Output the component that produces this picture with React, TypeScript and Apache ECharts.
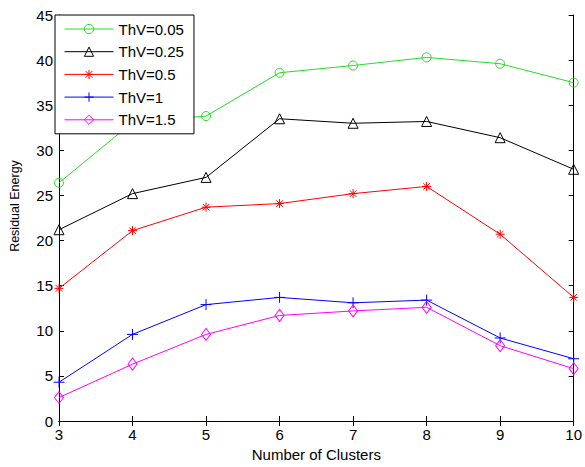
import React, { useEffect, useRef } from "react";
import * as echarts from "echarts";

const clusters = [3, 4, 5, 6, 7, 8, 9, 10];
const thv005 = [26.4, 33.1, 33.8, 38.6, 39.4, 40.3, 39.6, 37.5];
const thv025 = [21.2, 25.2, 27.0, 33.5, 33.0, 33.2, 31.4, 27.9];
const thv05 = [14.7, 21.1, 23.7, 24.1, 25.2, 26.0, 20.7, 13.7];
const thv1 = [4.3, 9.6, 12.9, 13.7, 13.1, 13.4, 9.2, 6.9];
const thv15 = [2.6, 6.3, 9.6, 11.7, 12.2, 12.6, 8.35, 5.8];
const seriesNames = ["ThV=0.05", "ThV=0.25", "ThV=0.5", "ThV=1", "ThV=1.5"];

const FONT = "'Liberation Sans', Arial, sans-serif";
const ASTERISK = "path://M0,-5L0,5M-5,0L5,0M-3.6,-3.6L3.6,3.6M-3.6,3.6L3.6,-3.6";
const PLUS = "path://M0,-5L0,5M-5,0L5,0";
const CLEAR = "rgba(0,0,0,0)";

export default function App() {
  const ref = useRef<HTMLDivElement>(null);
  useEffect(() => {
    if (!ref.current) return;
    const chart = echarts.init(ref.current, undefined, { renderer: "svg" });
    const pairs = (ys: number[]) => clusters.map((x, i) => [x, ys[i]]);
    const mk = (
      name: string,
      ys: number[],
      color: string,
      symbol: string,
      size: number | number[],
      hollow: boolean
    ) => ({
      name,
      type: "line",
      data: pairs(ys),
      symbol,
      symbolSize: size,
      showAllSymbol: true,
      lineStyle: { color, width: 1 },
      itemStyle: {
        color: hollow ? CLEAR : color,
        borderColor: color,
        borderWidth: 1,
      },
      emphasis: { disabled: true },
      z: 2,
    });
    const axisCommon = {
      axisLine: { show: true, lineStyle: { color: "#000", width: 1 } },
      axisTick: { show: true, inside: true, length: 5, lineStyle: { color: "#000" } },
      splitLine: { show: false },
    };
    chart.setOption({
      animation: false,
      backgroundColor: "#fff",
      textStyle: { fontFamily: FONT },
      grid: { left: 55, top: 15, right: 7, bottom: 42, containLabel: false },
      legend: {
        data: seriesNames,
        orient: "vertical",
        left: 55,
        top: 15,
        itemWidth: 49,
        itemHeight: 11.5,
        itemGap: 7.7,
        padding: [6.5, 10, 6.5, 9],
        backgroundColor: "#fff",
        borderColor: "#000",
        borderWidth: 1,
        borderRadius: 0,
        lineStyle: { width: 1 },
        itemStyle: { borderWidth: 1 },
        textStyle: { fontSize: 15, lineHeight: 15, color: "#000", fontFamily: FONT },
        z: 10,
      },
      xAxis: [
        {
          type: "value",
          min: 3,
          max: 10,
          interval: 1,
          position: "bottom",
          name: "Number of Clusters",
          nameLocation: "middle",
          nameGap: 26,
          nameTextStyle: { fontSize: 15, color: "#000", fontFamily: FONT },
          axisLabel: { fontSize: 15, color: "#000", margin: 6, fontFamily: FONT },
          ...axisCommon,
        },
        {
          type: "value",
          min: 3,
          max: 10,
          interval: 1,
          position: "top",
          axisLabel: { show: false },
          ...axisCommon,
        },
      ],
      yAxis: [
        {
          type: "value",
          min: 0,
          max: 45,
          interval: 5,
          position: "left",
          name: "Residual Energy",
          nameLocation: "middle",
          nameGap: 38,
          nameTextStyle: {
            fontSize: 12.5,
            color: "#000",
            fontFamily: FONT,
            padding: [0, 0, 0, 24],
          },
          axisLabel: { fontSize: 15, color: "#000", margin: 6, fontFamily: FONT },
          ...axisCommon,
        },
        {
          type: "value",
          min: 0,
          max: 45,
          interval: 5,
          position: "right",
          axisLabel: { show: false },
          ...axisCommon,
        },
      ],
      series: [
        mk(seriesNames[0], thv005, "#22dd22", "circle", 9, true),
        mk(seriesNames[1], thv025, "#000000", "triangle", 10, true),
        mk(seriesNames[2], thv05, "#ff0000", ASTERISK, 9, false),
        mk(seriesNames[3], thv1, "#0000ff", PLUS, 11, false),
        mk(seriesNames[4], thv15, "#ff00ff", "diamond", [9, 12], true),
      ],
    });
    return () => chart.dispose();
  }, []);
  return (
    <div
      ref={ref}
      style={{ position: "fixed", left: 0, top: 0, width: 585, height: 467 }}
    />
  );
}
